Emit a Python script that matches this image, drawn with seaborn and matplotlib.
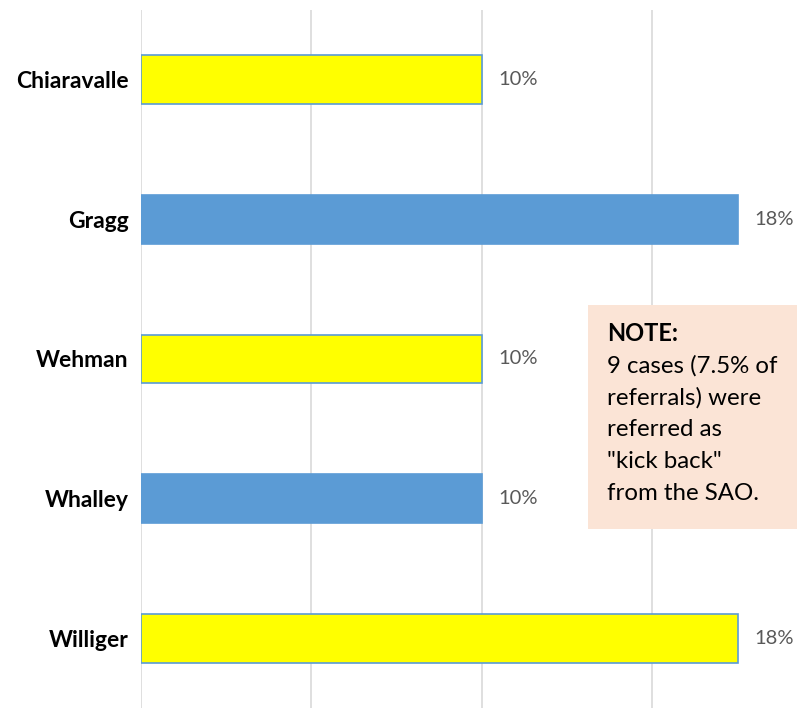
import matplotlib
matplotlib.use("Agg")
import matplotlib.pyplot as plt
import seaborn as sns
import pandas as pd

categories = ["Chiaravalle", "Gragg", "Wehman", "Whalley", "Williger"]
values = [10, 17.5, 10, 10, 17.5]
value_labels = ["10%", "18%", "10%", "10%", "18%"]
bar_colors = ["#FFFF00", "#5B9BD5", "#FFFF00", "#5B9BD5", "#FFFF00"]
note_title = "NOTE:"
note_lines = ["9 cases (7.5% of", "referrals) were", "referred as",
              "\"kick back\"", "from the SAO."]

sns.set_theme(style="white")
plt.rcParams['font.family'] = ['Lato', 'DejaVu Sans']

df = pd.DataFrame({"name": categories, "value": values})

fig = plt.figure(figsize=(7.97, 7.08), dpi=100)
ax = fig.add_axes([141 / 797, 0.0, (797 - 141) / 797, 698 / 708])

sns.barplot(data=df, y="name", x="value", hue="name", order=categories,
            palette=dict(zip(categories, bar_colors)), legend=False,
            width=0.35, ax=ax, orient="h", saturation=1)

for patch in ax.patches:
    patch.set_edgecolor("#5B9BD5")
    patch.set_linewidth(1.2)

for i, (v, lab) in enumerate(zip(values, value_labels)):
    ax.annotate(lab, xy=(v, i), xytext=(12, 0), textcoords="offset points",
                va="center", ha="left", fontsize=14.5, color="#595959")

ax.set_xlim(0, 19.24)
ax.set_ylim(4.5, -0.5)
ax.set_xticks([0, 5, 10, 15])
ax.xaxis.grid(True, color="#D9D9D9", linewidth=1.2)
ax.set_axisbelow(True)
ax.tick_params(axis="x", bottom=False, labelbottom=False)
ax.tick_params(axis="y", left=False, pad=3)
for lbl in ax.get_yticklabels():
    lbl.set_fontweight("bold")
    lbl.set_fontsize(16.5)
    lbl.set_color("black")
ax.set_xlabel("")
ax.set_ylabel("")
for s in ax.spines.values():
    s.set_visible(False)

# note box
box = plt.Rectangle((588 / 797, 1 - 529 / 708), (797 - 588) / 797, (529 - 305) / 708,
                    transform=fig.transFigure, facecolor="#FBE4D6", edgecolor="none", zorder=5)
fig.patches.append(box)
fig.text(607 / 797, 1 - 333 / 708, note_title, fontsize=17, fontweight="bold",
         va="center", ha="left", color="black", zorder=6)
for k, line in enumerate(note_lines):
    fig.text(607 / 797, 1 - (366 + 31.8 * k) / 708, line, fontsize=17.3,
             va="center", ha="left", color="black", zorder=6)

fig.savefig("out.png", dpi=100)
